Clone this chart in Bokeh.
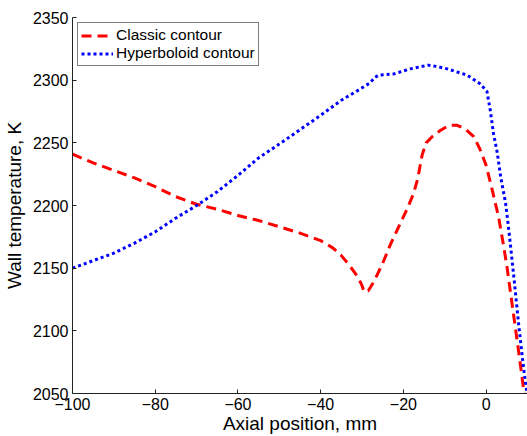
from bokeh.plotting import figure
from bokeh.models import Range1d, Legend, LegendItem, FixedTicker
from bokeh.embed import file_html
from bokeh.resources import INLINE

# ---- data ----
classic_x = [-100, -95, -90, -85, -80, -75, -70, -65, -60, -55, -50, -45, -40, -37, -35,
             -33, -31, -30, -29.5, -28.5, -27, -25, -23, -21, -19, -17.5, -16.5, -15.5,
             -14.5, -13, -11, -9, -7, -5, -3, -1.5, 0, 1.5, 3, 4, 5, 6, 7, 8, 9, 9.3]
classic_y = [2241, 2234, 2228, 2222, 2215, 2207, 2201, 2197, 2192, 2188, 2183, 2178, 2172, 2166, 2160,
             2152, 2143, 2136, 2131, 2132, 2140, 2154, 2170, 2184, 2198, 2210, 2222, 2240,
             2250, 2255, 2260, 2264, 2264, 2261, 2255, 2245, 2232, 2212, 2191, 2172, 2152, 2128, 2104, 2080, 2055, 2050]

hyper_x = [-100, -95, -90, -85, -80, -75, -70, -65, -60, -55, -50, -46.5, -40, -35, -30.4,
           -28, -27, -26, -22.3, -18.3, -14, -12, -9.4, -4.6, -1.4, 0.2, 1.0, 1.8, 2.7,
           3.5, 4.7, 5.5, 6.7, 7.9, 9.1, 9.9]
hyper_y = [2150, 2156, 2162, 2170, 2179, 2190, 2200, 2211, 2224, 2238, 2249, 2257, 2272, 2284, 2293,
           2298, 2302, 2304, 2305, 2309, 2312, 2311, 2309, 2304, 2297, 2291, 2276, 2257, 2242,
           2223, 2202, 2180, 2143, 2104, 2069, 2050]

x_ticks = [-100, -80, -60, -40, -20, 0]
x_tick_labels = ["\u2212100", "\u221280", "\u221260", "\u221240", "\u221220", "0"]
y_ticks = [2050, 2100, 2150, 2200, 2250, 2300, 2350]
y_tick_labels = ["2050", "2100", "2150", "2200", "2250", "2300", "2350"]

labels = ["Classic contour", "Hyperboloid contour"]

FONT = "Liberation Sans"

p = figure(width=527, height=436, output_backend="svg", toolbar_location=None,
           x_range=Range1d(-100, 10), y_range=Range1d(2050, 2350),
           min_border_left=72, min_border_top=17, min_border_right=0, min_border_bottom=42,
           background_fill_color="white", border_fill_color="white")
p.outline_line_color = None
p.xgrid.visible = False
p.ygrid.visible = False

r1 = p.line(classic_x, classic_y, line_color="#ff0000", line_width=3, line_dash="10 6")
r2 = p.line(hyper_x, hyper_y, line_color="#0000ff", line_width=3, line_dash="3 3")

for ax, ticks, tlabels in ((p.xaxis[0], x_ticks, x_tick_labels), (p.yaxis[0], y_ticks, y_tick_labels)):
    ax.ticker = FixedTicker(ticks=ticks)
    ax.major_label_overrides = {t: l for t, l in zip(ticks, tlabels)}
    ax.major_tick_in = 4
    ax.major_tick_out = 0
    ax.minor_tick_line_color = None
    ax.axis_line_color = "#222222"
    ax.major_tick_line_color = "#222222"
    ax.major_label_text_font = FONT
    ax.major_label_text_font_size = "16px"
    ax.major_label_text_color = "black"
    ax.axis_label_text_font = FONT
    ax.axis_label_text_font_size = "19px"
    ax.axis_label_text_font_style = "normal"
    ax.axis_label_text_color = "black"

p.xaxis.axis_label = "Axial position, mm"
p.yaxis.axis_label = "Wall temperature, K"
p.xaxis.major_label_standoff = 4
p.xaxis.axis_label_standoff = 0
p.yaxis.major_label_standoff = 4
p.yaxis.axis_label_standoff = 5

legend = Legend(items=[LegendItem(label=labels[0], renderers=[r1]),
                       LegendItem(label=labels[1], renderers=[r2])],
                location="top_left")
legend.margin = 5
legend.padding = 3
legend.spacing = 0
legend.glyph_width = 32
legend.glyph_height = 17
legend.label_height = 17
legend.label_standoff = 3
legend.label_text_font = FONT
legend.label_text_font_size = "15.5px"
legend.label_text_color = "black"
legend.border_line_color = "black"
legend.border_line_width = 1
legend.background_fill_color = "white"
legend.background_fill_alpha = 1
p.add_layout(legend)

open("out.html", "w").write(file_html(p, INLINE))
